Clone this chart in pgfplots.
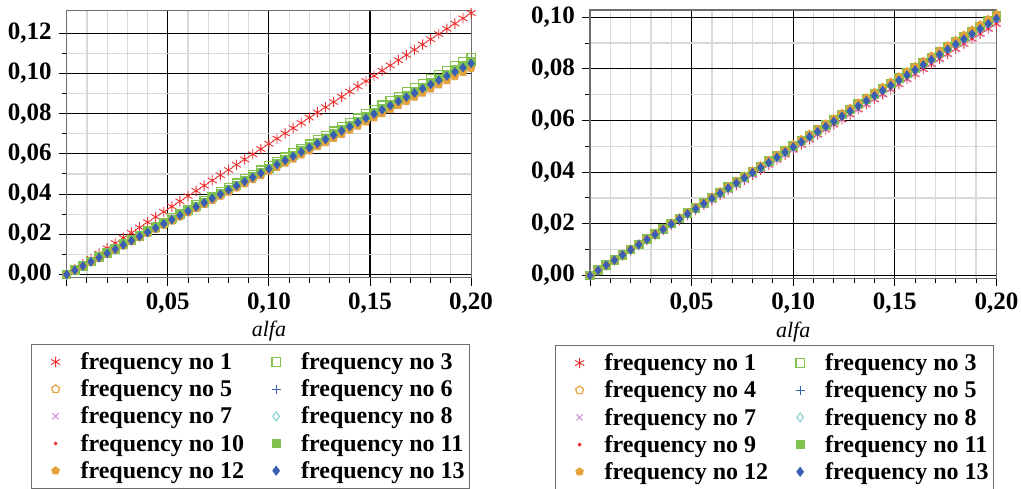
\documentclass[border=0pt]{standalone}
\usepackage{fontspec}
\setmainfont{Liberation Serif}
\usepackage{pgfplots}
\usepackage{pgfplotstable}
\pgfplotsset{compat=1.18}

\definecolor{cRed}{HTML}{F03030}
\definecolor{cGreen}{HTML}{82C24E}
\definecolor{cOrange}{HTML}{E6A33C}
\definecolor{cBlue}{HTML}{3A5FB2}
\definecolor{cPurple}{HTML}{C98FD2}
\definecolor{cCyan}{HTML}{7CCFD0}
\definecolor{cFrame}{HTML}{6E6E6E}

% x = alfa; value columns a..n hold the curves (several frequencies share one)
\pgfplotstableread{
x a b c d e f g k m n
0 0 0 0 0 0 0 0 0 0 0
0.004 0.0026 0.00216 0.00212 0.0021 0.00207 0.00205 0.00195 0.00199 0.00201 0.00202
0.008 0.0052 0.00432 0.00424 0.0042 0.00414 0.0041 0.0039 0.00398 0.00402 0.00404
0.012 0.0078 0.00648 0.00636 0.0063 0.00621 0.00615 0.00585 0.00597 0.00603 0.00606
0.016 0.0104 0.00864 0.00848 0.0084 0.00828 0.0082 0.0078 0.00796 0.00804 0.00808
0.020 0.0130 0.0108 0.0106 0.0105 0.01035 0.01025 0.00975 0.00995 0.01005 0.0101
0.024 0.0156 0.01296 0.01272 0.0126 0.01242 0.0123 0.0117 0.01194 0.01206 0.01212
0.028 0.0182 0.01512 0.01484 0.0147 0.01449 0.01435 0.01365 0.01393 0.01407 0.01414
0.032 0.0208 0.01728 0.01696 0.0168 0.01656 0.0164 0.0156 0.01592 0.01608 0.01616
0.036 0.0234 0.01944 0.01908 0.0189 0.01863 0.01845 0.01755 0.01791 0.01809 0.01818
0.040 0.0260 0.0216 0.0212 0.021 0.0207 0.0205 0.0195 0.0199 0.0201 0.0202
0.044 0.0286 0.02376 0.02332 0.0231 0.02277 0.02255 0.02145 0.02189 0.02211 0.02222
0.048 0.0312 0.02592 0.02544 0.0252 0.02484 0.0246 0.0234 0.02388 0.02412 0.02424
0.052 0.0338 0.02808 0.02756 0.0273 0.02691 0.02665 0.02535 0.02587 0.02613 0.02626
0.056 0.0364 0.03024 0.02968 0.0294 0.02898 0.0287 0.0273 0.02786 0.02814 0.02828
0.060 0.0390 0.0324 0.0318 0.0315 0.03105 0.03075 0.02925 0.02985 0.03015 0.0303
0.064 0.0416 0.03456 0.03392 0.0336 0.03312 0.0328 0.0312 0.03184 0.03216 0.03232
0.068 0.0442 0.03672 0.03604 0.0357 0.03519 0.03485 0.03315 0.03383 0.03417 0.03434
0.072 0.0468 0.03888 0.03816 0.0378 0.03726 0.0369 0.0351 0.03582 0.03618 0.03636
0.076 0.0494 0.04104 0.04028 0.0399 0.03933 0.03895 0.03705 0.03781 0.03819 0.03838
0.080 0.0520 0.0432 0.0424 0.042 0.0414 0.041 0.039 0.0398 0.0402 0.0404
0.084 0.0546 0.04536 0.04452 0.0441 0.04347 0.04305 0.04095 0.04179 0.04221 0.04242
0.088 0.0572 0.04752 0.04664 0.0462 0.04554 0.0451 0.0429 0.04378 0.04422 0.04444
0.092 0.0598 0.04968 0.04876 0.0483 0.04761 0.04715 0.04485 0.04577 0.04623 0.04646
0.096 0.0624 0.05184 0.05088 0.0504 0.04968 0.0492 0.0468 0.04776 0.04824 0.04848
0.100 0.0650 0.054 0.053 0.0525 0.05175 0.05125 0.04875 0.04975 0.05025 0.0505
0.104 0.0676 0.05616 0.05512 0.0546 0.05382 0.0533 0.0507 0.05174 0.05226 0.05252
0.108 0.0702 0.05832 0.05724 0.0567 0.05589 0.05535 0.05265 0.05373 0.05427 0.05454
0.112 0.0728 0.06048 0.05936 0.0588 0.05796 0.0574 0.0546 0.05572 0.05628 0.05656
0.116 0.0754 0.06264 0.06148 0.0609 0.06003 0.05945 0.05655 0.05771 0.05829 0.05858
0.120 0.0780 0.0648 0.0636 0.063 0.0621 0.0615 0.0585 0.0597 0.0603 0.0606
0.124 0.0806 0.06696 0.06572 0.0651 0.06417 0.06355 0.06045 0.06169 0.06231 0.06262
0.128 0.0832 0.06912 0.06784 0.0672 0.06624 0.0656 0.0624 0.06368 0.06432 0.06464
0.132 0.0858 0.07128 0.06996 0.0693 0.06831 0.06765 0.06435 0.06567 0.06633 0.06666
0.136 0.0884 0.07344 0.07208 0.0714 0.07038 0.0697 0.0663 0.06766 0.06834 0.06868
0.140 0.0910 0.0756 0.0742 0.0735 0.07245 0.07175 0.06825 0.06965 0.07035 0.0707
0.144 0.0936 0.07776 0.07632 0.0756 0.07452 0.0738 0.0702 0.07164 0.07236 0.07272
0.148 0.0962 0.07992 0.07844 0.0777 0.07659 0.07585 0.07215 0.07363 0.07437 0.07474
0.152 0.0988 0.08208 0.08056 0.0798 0.07866 0.0779 0.0741 0.07562 0.07638 0.07676
0.156 0.1014 0.08424 0.08268 0.0819 0.08073 0.07995 0.07605 0.07761 0.07839 0.07878
0.160 0.1040 0.0864 0.0848 0.084 0.0828 0.082 0.078 0.0796 0.0804 0.0808
0.164 0.1066 0.08856 0.08692 0.0861 0.08487 0.08405 0.07995 0.08159 0.08241 0.08282
0.168 0.1092 0.09072 0.08904 0.0882 0.08694 0.0861 0.0819 0.08358 0.08442 0.08484
0.172 0.1118 0.09288 0.09116 0.0903 0.08901 0.08815 0.08385 0.08557 0.08643 0.08686
0.176 0.1144 0.09504 0.09328 0.0924 0.09108 0.0902 0.0858 0.08756 0.08844 0.08888
0.180 0.1170 0.0972 0.0954 0.0945 0.09315 0.09225 0.08775 0.08955 0.09045 0.0909
0.184 0.1196 0.09936 0.09752 0.0966 0.09522 0.0943 0.0897 0.09154 0.09246 0.09292
0.188 0.1222 0.10152 0.09964 0.0987 0.09729 0.09635 0.09165 0.09353 0.09447 0.09494
0.192 0.1248 0.10368 0.10176 0.1008 0.09936 0.0984 0.0936 0.09552 0.09648 0.09696
0.196 0.1274 0.10584 0.10388 0.1029 0.10143 0.10045 0.09555 0.09751 0.09849 0.09898
0.200 0.1300 0.108 0.106 0.105 0.1035 0.1025 0.0975 0.0995 0.1005 0.101
}\freqdata

\pgfplotsset{
  sA/.style={only marks, mark=asterisk, mark size=2.6pt, color=cRed, line width=0.45pt},
  sB/.style={only marks, mark=square, mark size=2.1pt, color=cGreen, line width=0.6pt},
  sC/.style={only marks, mark=pentagon, mark size=2.1pt, color=cOrange, line width=0.6pt},
  sD/.style={only marks, mark=+, mark size=2.2pt, color=cBlue, line width=0.5pt},
  sE/.style={only marks, mark=x, mark size=2.2pt, color=cPurple, line width=0.5pt},
  sF/.style={only marks, mark=diamond, mark size=2.2pt, color=cCyan, line width=0.5pt},
  sG/.style={only marks, mark=*, mark size=0.6pt, color=cRed},
  sH/.style={only marks, mark=square*, mark size=2pt, color=cGreen},
  sI/.style={only marks, mark=pentagon*, mark size=1.9pt, color=cOrange},
  sJ/.style={only marks, mark=diamond*, mark size=2.1pt, color=cBlue},
  freqaxis/.style={
    scale only axis, anchor=north west, clip=false,
    xmin=0, xmax=0.2,
    xtick={0,0.05,0.1,0.15,0.2},
    xticklabels={{},{0,05},{0,10},{0,15},{0,20}},
    minor x tick num=4, minor y tick num=1,
    grid=both,
    major grid style={black, line width=0.55pt},
    minor grid style={gray!30, line width=0.6pt},
    axis line style={cFrame, line width=0.6pt},
    tick align=outside, xtick pos=bottom, ytick pos=left,
    major tick length=4pt, minor tick length=2.5pt,
    tick style={black, line width=0.5pt},
    ticklabel style={font=\fontsize{12.5}{14}\selectfont\bfseries},
    xlabel={alfa},
    xlabel style={font=\fontsize{11}{13}\selectfont\itshape,
      at={(axis description cs:0.5,-0.2)}, anchor=center},
    legend columns=2, legend cell align=left,
    legend image code/.code={
      \path[draw=none,fill=none] (-10.5pt,-2.5pt) rectangle (10.5pt,2.5pt);
      \draw[mark repeat=2,mark phase=2,##1]
        plot coordinates {(-10.5pt,0pt) (0pt,0pt) (10.5pt,0pt)};
    },
    legend style={draw=cFrame, line width=0.6pt,
      font=\fontsize{12}{15}\selectfont\bfseries,
      inner xsep=1.5pt, inner ysep=2pt,
      nodes={inner xsep=1pt, inner ysep=0.5pt, text height=10pt, text depth=2.4pt},
      row sep=0.2pt,
      /tikz/every odd column/.append style={column sep=1pt},
      /tikz/every even column/.append style={column sep=4.5pt}},
  },
}

\begin{document}
\begin{tikzpicture}
\useasboundingbox (0,0) rectangle (510.5pt,244pt);

\begin{axis}[freqaxis,
  at={(33.35pt,238.65pt)}, width=202.2pt, height=133.4pt,
  ymin=-0.0015, ymax=0.1312,
  ytick={0,0.02,0.04,0.06,0.08,0.1,0.12},
  yticklabels={{0,00},{0,02},{0,04},{0,06},{0,08},{0,10},{0,12}},
  legend style={at={(axis description cs:0,-0.249)}, anchor=north west, xshift=-17.85pt}]
  \addplot[sA] table[x=x,y=a] {\freqdata};
  \addlegendentry{frequency no 1}
  \addplot[sB] table[x=x,y=b] {\freqdata};
  \addlegendentry{frequency no 3}
  \addplot[sC] table[x=x,y=e] {\freqdata};
  \addlegendentry{frequency no 5}
  \addplot[sD] table[x=x,y=d] {\freqdata};
  \addlegendentry{frequency no 6}
  \addplot[sE] table[x=x,y=f] {\freqdata};
  \addlegendentry{frequency no 7}
  \addplot[sF] table[x=x,y=d] {\freqdata};
  \addlegendentry{frequency no 8}
  \addplot[sG] table[x=x,y=e] {\freqdata};
  \addlegendentry{frequency no 10}
  \addplot[sH] table[x=x,y=c] {\freqdata};
  \addlegendentry{frequency no 11}
  \addplot[sI] table[x=x,y=f] {\freqdata};
  \addlegendentry{frequency no 12}
  \addplot[sJ] table[x=x,y=d] {\freqdata};
  \addlegendentry{frequency no 13}
\end{axis}

\begin{axis}[freqaxis,
  at={(295pt,239pt)}, width=203.2pt, height=134.15pt,
  ymin=-0.0011, ymax=0.1028,
  ytick={0,0.02,0.04,0.06,0.08,0.1},
  yticklabels={{0,00},{0,02},{0,04},{0,06},{0,08},{0,10}},
  legend style={at={(axis description cs:0,-0.2486)}, anchor=north west, xshift=-17.5pt}]
  \addplot[sA] table[x=x,y=g] {\freqdata};
  \addlegendentry{frequency no 1}
  \addplot[sB] table[x=x,y=m] {\freqdata};
  \addlegendentry{frequency no 3}
  \addplot[sC] table[x=x,y=n] {\freqdata};
  \addlegendentry{frequency no 4}
  \addplot[sD] table[x=x,y=k] {\freqdata};
  \addlegendentry{frequency no 5}
  \addplot[sE] table[x=x,y=g] {\freqdata};
  \addlegendentry{frequency no 7}
  \addplot[sF] table[x=x,y=k] {\freqdata};
  \addlegendentry{frequency no 8}
  \addplot[sG] table[x=x,y=g] {\freqdata};
  \addlegendentry{frequency no 9}
  \addplot[sH] table[x=x,y=m] {\freqdata};
  \addlegendentry{frequency no 11}
  \addplot[sI] table[x=x,y=n] {\freqdata};
  \addlegendentry{frequency no 12}
  \addplot[sJ] table[x=x,y=k] {\freqdata};
  \addlegendentry{frequency no 13}
\end{axis}
\end{tikzpicture}
\end{document}
